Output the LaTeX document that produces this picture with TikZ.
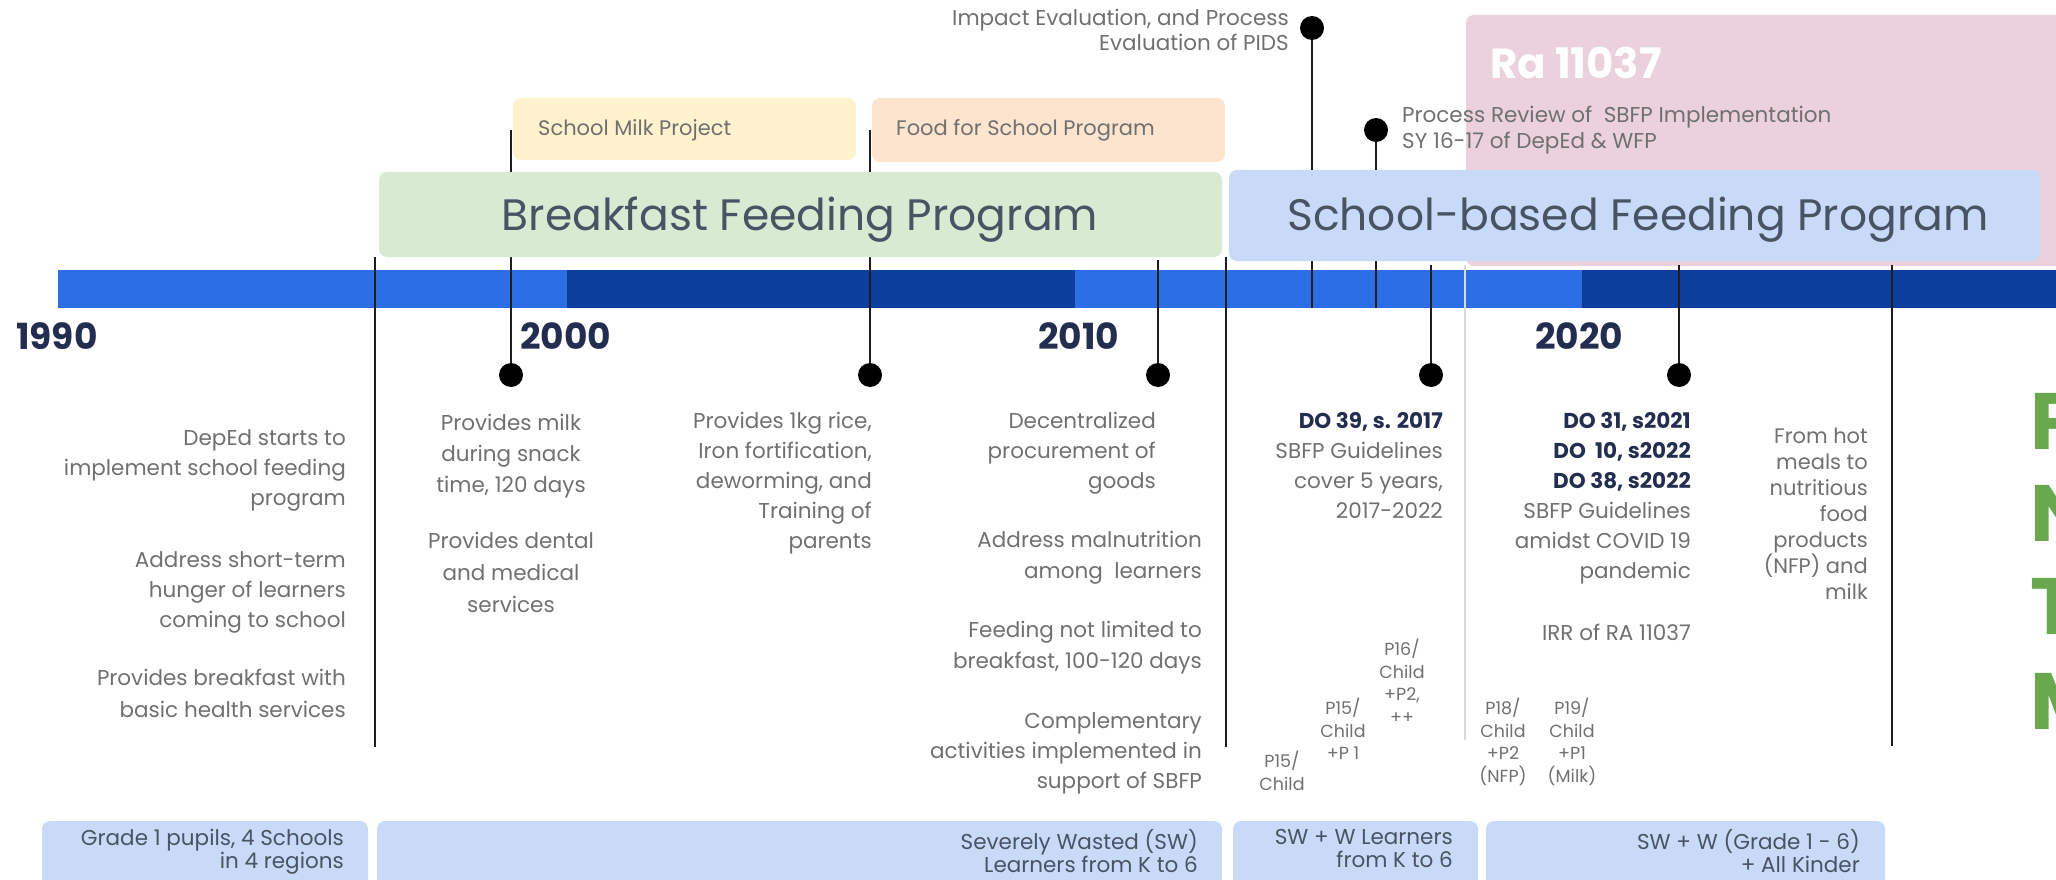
\documentclass[tikz,border=0pt]{standalone}
\usepackage{fontspec}
\setmainfont{Poppins}
\usetikzlibrary{positioning, calc, shapes}

\definecolor{barlight}{RGB}{44,110,228}
\definecolor{bardark}{RGB}{12,62,158}
\definecolor{boxgreen}{RGB}{217,234,211}
\definecolor{boxyellow}{RGB}{255,242,204}
\definecolor{boxpeach}{RGB}{252,228,206}
\definecolor{boxblue}{RGB}{201,218,248}
\definecolor{boxpink}{RGB}{234,209,220}
\definecolor{titlegray}{RGB}{72,84,100}
\definecolor{bodygray}{RGB}{112,112,112}
\definecolor{navy}{RGB}{35,45,80}
\definecolor{stemgray}{RGB}{30,30,30}
\definecolor{markgreen}{RGB}{106,168,79}

\begin{document}
\begin{tikzpicture}[x=1pt,y=-1pt,
    stem/.style={draw=stemgray, line width=2.5pt},
    dot/.style={circle, fill=black, inner sep=0pt, minimum size=24pt},
    band/.style={rounded corners=8pt},
    body/.style={font=\fontsize{21.5}{30}\selectfont, text=bodygray, inner sep=0pt},
    small/.style={font=\fontsize{17.5}{22.5}\selectfont, text=bodygray, inner sep=0pt, align=center, anchor=north},
    year/.style={font=\fontsize{36}{36}\selectfont\bfseries, text=navy, inner sep=0pt, anchor=base west},
    title/.style={font=\fontsize{44}{44}\selectfont, text=titlegray, inner sep=0pt, anchor=base},
    tag/.style={font=\fontsize{21}{21}\selectfont, text=bodygray, inner sep=0pt, anchor=west},
    group/.style={font=\fontsize{21.5}{23}\selectfont, text=titlegray, inner sep=0pt, align=right, anchor=north east},
    bigletter/.style={font=\fontsize{80}{80}\selectfont\bfseries, text=markgreen, inner sep=0pt, anchor=base west}]

      \useasboundingbox (0,0) rectangle (2056,880);
      \clip (0,0) rectangle (2056,880);

      \fill[band, boxpink] (1466,15) rectangle (2070,266);

      \fill[barlight] (58,270) rectangle (567,308);
      \fill[bardark] (567,270) rectangle (1075,308);
      \fill[barlight] (1075,270) rectangle (1582,308);
      \fill[bardark] (1582,270) rectangle (2056,308);

      \node[dot] (impactdot) at (1312,28) {};
      \node[dot] (reviewdot) at (1376,130) {};
      \node[dot] (milkdot) at (511,375) {};
      \node[dot] (ricedot) at (870,375) {};
      \node[dot] (procdot) at (1158,375) {};
      \node[dot] (dothirtynine) at (1431,375) {};
      \node[dot] (dothirtyone) at (1679,375) {};

      \coordinate (milktop) at (511,130);
      \coordinate (foodtop) at (870,130);
      \coordinate (proctop) at (1158,260);
      \coordinate (dothirtyninetop) at (1431,265);
      \coordinate (dothirtyonetop) at (1679,265);
      \coordinate (impactend) at (1312,308);
      \coordinate (reviewend) at (1376,308);

      \draw[stem] (milktop) -- (milkdot);
      \draw[stem] (foodtop) -- (ricedot);
      \draw[stem] (proctop) -- (procdot);
      \draw[stem] (dothirtyninetop) -- (dothirtynine);
      \draw[stem] (dothirtyonetop) -- (dothirtyone);
      \draw[stem] (impactdot) -- (impactend);
      \draw[stem] (reviewdot) -- (reviewend);

      \draw[stem] (375,257) -- (375,747);
      \draw[stem] (1226,257) -- (1226,747);
      \draw[stem] (1892,265) -- (1892,746);
      \draw[draw=black!15, line width=1.5pt] (1465,265) -- (1465,740);

      \fill[band, boxyellow] (513,98) rectangle (856,160);
      \fill[band, boxpeach] (872,98) rectangle (1225,162);
      \fill[band, boxgreen] (379,172) rectangle (1222,257);
      \fill[band, boxblue] (1229,170) rectangle (2040,261);

      \fill[band, boxblue] (42,821) rectangle (368,895);
      \fill[band, boxblue] (377,821) rectangle (1222,895);
      \fill[band, boxblue] (1233,821) rectangle (1478,895);
      \fill[band, boxblue] (1486,821) rectangle (1885,895);

      \node[tag] (milkproject) at (538,130) {School Milk Project};
      \node[tag] (foodprogram) at (896,130) {Food for School Program};
      \node[title] (bfp) at (800,230) {Breakfast Feeding Program};
      \node[title] (sbfp) at (1638,230) {School-based Feeding Program};
      \node[font=\fontsize{42}{42}\selectfont\bfseries, text=white, inner sep=0pt, anchor=base west] (ra) at (1490,79) {Ra 11037};

      \node[body, font=\fontsize{21.5}{25}\selectfont, anchor=north east, align=right] (impact) at (1289,9) {Impact Evaluation, and Process\\Evaluation of PIDS};
      \node[body, font=\fontsize{21.5}{26}\selectfont, anchor=north west, align=left] (review) at (1402,106) {Process Review of\ \ SBFP Implementation\\SY 16-17 of DepEd \& WFP};

      \node[year] (y1990) at (16,349) {1990};
      \node[year] (y2000) at (520,349) {2000};
      \node[year] (y2010) at (1038,349) {2010};
      \node[year] (y2020) at (1535,349) {2020};

      \node[body, anchor=north east, align=right] (deped) at (346,429) {DepEd starts to\\implement school feeding\\program};
      \node[body, anchor=north east, align=right] (hunger) at (346,551) {Address short-term\\hunger of learners\\coming to school};
      \node[body, font=\fontsize{21.5}{32}\selectfont, anchor=north east, align=right] (bfast) at (346,669) {Provides breakfast with\\basic health services};

      \node[body, font=\fontsize{21.5}{31}\selectfont, anchor=north, align=center] (milk) at (511,414) {Provides milk\\during snack\\time, 120 days};
      \node[body, font=\fontsize{21.5}{32}\selectfont, anchor=north, align=center] (dental) at (511,532) {Provides dental\\and medical\\services};

      \node[body, anchor=north east, align=right] (rice) at (872,412) {Provides 1kg rice,\\Iron fortification,\\deworming, and\\Training of\\parents};

      \node[body, anchor=north east, align=right] (decent) at (1156,412) {Decentralized\\procurement of\\goods};
      \node[body, font=\fontsize{21.5}{31}\selectfont, anchor=north east, align=right] (malnut) at (1202,531) {Address malnutrition\\among\ \ learners};
      \node[body, font=\fontsize{21.5}{31}\selectfont, anchor=north east, align=right] (notlimited) at (1202,621) {Feeding not limited to\\breakfast, 100-120 days};
      \node[body, anchor=north east, align=right] (compl) at (1202,712) {Complementary\\activities implemented in\\support of SBFP};

      \node[body, anchor=north east, align=right] (dothirtyninetext) at (1443,412) {\textcolor{navy}{\bfseries DO 39, s. 2017}\\SBFP Guidelines\\cover 5 years,\\2017-2022};
      \node[body, anchor=north east, align=right] (dothirtyonetext) at (1691,412) {\textcolor{navy}{\bfseries DO 31, s2021}\\\textcolor{navy}{\bfseries DO\ \ 10, s2022}\\\textcolor{navy}{\bfseries DO 38, s2022}\\SBFP Guidelines\\amidst COVID 19\\pandemic};
      \node[body, anchor=north east, align=right] (irr) at (1691,624) {IRR of RA 11037};
      \node[body, font=\fontsize{21}{26}\selectfont, anchor=north east, align=right] (hotmeals) at (1868,428) {From hot\\meals to\\nutritious\\food\\products\\(NFP) and\\milk};

      \node[small] (pfifteen) at (1282,751) {P15/\\Child};
      \node[small] (pfifteenplus) at (1343,698) {P15/\\Child\\+P 1};
      \node[small] (psixteen) at (1402,639) {P16/\\Child\\+P2,\\++};
      \node[small] (peighteen) at (1503,698) {P18/\\Child\\+P2\\(NFP)};
      \node[small] (pnineteen) at (1572,698) {P19/\\Child\\+P1\\(Milk)};

      \node[group] (gradeone) at (344,829) {Grade 1 pupils, 4 Schools\\in 4 regions};
      \node[group] (wasted) at (1198,829) {Severely Wasted (SW)\\Learners from K to 6};
      \node[group] (swwlearners) at (1453,829) {SW + W Learners\\from K to 6};
      \node[group] (swwgrade) at (1860,829) {SW + W (Grade 1 - 6)\\+ All Kinder};

      \node[bigletter] (markp) at (2030,449) {P};
      \node[bigletter] (markn) at (2030,541) {N};
      \node[bigletter] (markt) at (2030,634) {T};
      \node[bigletter] (markm) at (2030,729) {M};

    \end{tikzpicture}
\end{document}
